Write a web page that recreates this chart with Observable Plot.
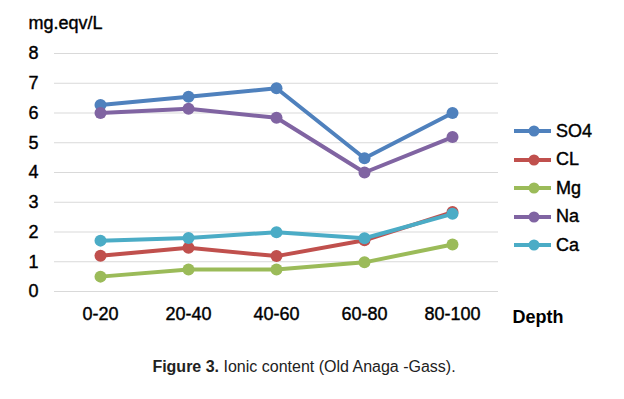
<!DOCTYPE html>
<html>
<head>
<meta charset="utf-8">
<script src="https://cdn.jsdelivr.net/npm/d3@7"></script>
<script src="https://cdn.jsdelivr.net/npm/@observablehq/plot@0.6"></script>
<style>
  body { margin: 0; background: #fff; font-family: "Liberation Sans", Arial, sans-serif; }
  #wrap { position: relative; width: 624px; height: 399px; }
  #legend { position: absolute; left: 513px; top: 117px; }
  .item { display: flex; align-items: center; height: 28.5px; font-size: 18px; color: #000; }
  .item svg { margin-right: 3px; }
  #caption { position: absolute; left: 0; width: 608px; top: 358px; text-align: center; font-size: 16px; color: #222; }
  g[aria-label$="tick label"] { stroke: #000; stroke-width: 0.4px; }
</style>
</head>
<body>
<div id="wrap">
  <div id="chart"></div>
  <div id="legend"></div>
  <div id="caption"><b>Figure 3.</b> Ionic content (Old Anaga -Gass).</div>
</div>
<script>
const depths = ["0-20", "20-40", "40-60", "60-80", "80-100"];
const seriesNames = ["SO4", "CL", "Mg", "Na", "Ca"];
const SO4 = [6.27, 6.55, 6.83, 4.48, 6.0];
const CL = [1.2, 1.47, 1.19, 1.72, 2.67];
const Mg = [0.5, 0.74, 0.74, 0.98, 1.58];
const Na = [6.0, 6.14, 5.84, 4.0, 5.19];
const Ca = [1.71, 1.8, 1.99, 1.79, 2.61];
const yTicks = [0, 1, 2, 3, 4, 5, 6, 7, 8];
const colors = ["#4F81BD", "#C0504D", "#9BBB59", "#8064A2", "#4BACC6"];

const valuesBySeries = {SO4, CL, Mg, Na, Ca};
const data = seriesNames.flatMap(s => depths.map((d, i) => ({series: s, depth: d, value: valuesBySeries[s][i]})));

const chart = Plot.plot({
  width: 624,
  height: 340,
  marginLeft: 54,
  marginRight: 126,
  marginTop: 53,
  marginBottom: 49,
  style: {fontFamily: "Liberation Sans, Arial, sans-serif", fontSize: "18px", color: "#000", background: "#fff"},
  x: {type: "point", domain: depths, padding: 0.5, label: null},
  y: {domain: [0, 8], label: null},
  color: {domain: seriesNames, range: colors},
  marks: [
    Plot.gridY(yTicks, {stroke: "#d9d9d9", strokeOpacity: 1, strokeWidth: 1.2}),
    Plot.axisY({ticks: yTicks, tickSize: 0, tickPadding: 16, fontSize: 18, tickFormat: d => d}),
    Plot.axisX({tickSize: 0, tickPadding: 16, fontSize: 18}),
    ...seriesNames.map(s => [
      Plot.line(data.filter(d => d.series === s), {x: "depth", y: "value", stroke: "series", strokeWidth: 4}),
      Plot.dot(data.filter(d => d.series === s), {x: "depth", y: "value", fill: "series", r: 6})
    ]).flat(),
    Plot.text(["mg.eqv/L"], {frameAnchor: "top-left", dx: -26, dy: -37, textAnchor: "start", fontSize: 18, fill: "#000", stroke: "#000", strokeWidth: 0.4}),
    Plot.text(["Depth"], {frameAnchor: "bottom-right", dx: 14, dy: 31, textAnchor: "start", fontSize: 18, fontWeight: "bold", fill: "#000"})
  ]
});
document.getElementById("chart").appendChild(chart);

const legend = document.getElementById("legend");
seriesNames.forEach((s, i) => {
  const item = document.createElement("div");
  item.className = "item";
  item.innerHTML = `<svg width="40" height="14"><line x1="1" x2="38" y1="7" y2="7" stroke="${colors[i]}" stroke-width="4"/><circle cx="21" cy="7" r="5.5" fill="${colors[i]}"/></svg><span style="-webkit-text-stroke:0.4px #000">${s}</span>`;
  legend.appendChild(item);
});
</script>
</body>
</html>
